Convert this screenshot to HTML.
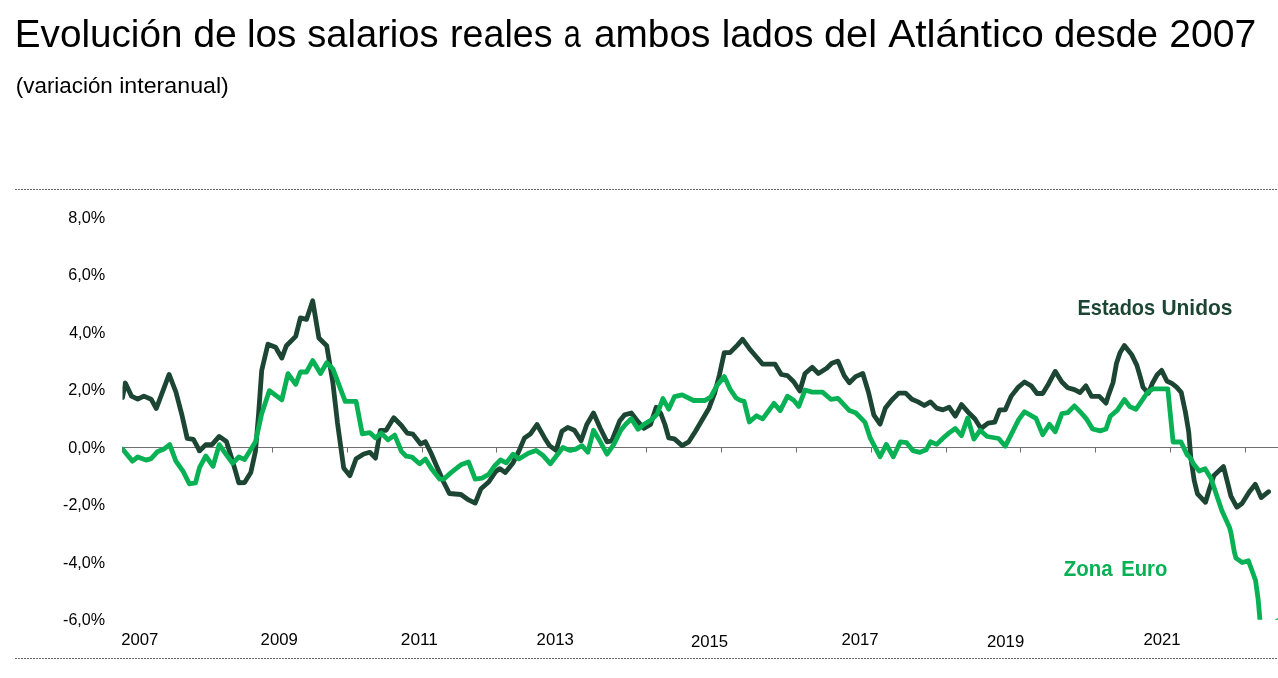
<!DOCTYPE html>
<html><head><meta charset="utf-8">
<style>
html,body{margin:0;padding:0;background:#fff;}
body{width:1278px;height:678px;overflow:hidden;}
svg{display:block;will-change:transform;}
text{font-family:"Liberation Sans",sans-serif;}
</style></head><body>
<svg width="1278" height="678" viewBox="0 0 1278 678">
<rect width="1278" height="678" fill="#fff"/>
<text x="14.83" y="47" font-size="39" font-weight="normal" fill="#000" textLength="167.56" lengthAdjust="spacingAndGlyphs">Evolución</text>
<text x="193.19" y="47" font-size="39" font-weight="normal" fill="#000" textLength="43.72" lengthAdjust="spacingAndGlyphs">de</text>
<text x="247.03" y="47" font-size="39" font-weight="normal" fill="#000" textLength="49.42" lengthAdjust="spacingAndGlyphs">los</text>
<text x="307.32" y="47" font-size="39" font-weight="normal" fill="#000" textLength="131.23" lengthAdjust="spacingAndGlyphs">salarios</text>
<text x="450.07" y="47" font-size="39" font-weight="normal" fill="#000" textLength="102.42" lengthAdjust="spacingAndGlyphs">reales</text>
<text x="563.83" y="47" font-size="39" font-weight="normal" fill="#000" textLength="17.04" lengthAdjust="spacingAndGlyphs">a</text>
<text x="594.01" y="47" font-size="39" font-weight="normal" fill="#000" textLength="116.34" lengthAdjust="spacingAndGlyphs">ambos</text>
<text x="721.64" y="47" font-size="39" font-weight="normal" fill="#000" textLength="91.87" lengthAdjust="spacingAndGlyphs">lados</text>
<text x="823.96" y="47" font-size="39" font-weight="normal" fill="#000" textLength="53.02" lengthAdjust="spacingAndGlyphs">del</text>
<text x="888.20" y="47" font-size="39" font-weight="normal" fill="#000" textLength="155.76" lengthAdjust="spacingAndGlyphs">Atlántico</text>
<text x="1054.04" y="47" font-size="39" font-weight="normal" fill="#000" textLength="104.00" lengthAdjust="spacingAndGlyphs">desde</text>
<text x="1169.30" y="47" font-size="39" font-weight="normal" fill="#000" textLength="86.97" lengthAdjust="spacingAndGlyphs">2007</text>
<text x="15.86" y="92.7" font-size="21.5" font-weight="normal" fill="#000" textLength="96.89" lengthAdjust="spacingAndGlyphs">(variación</text>
<text x="119.22" y="92.7" font-size="21.5" font-weight="normal" fill="#000" textLength="109.60" lengthAdjust="spacingAndGlyphs">interanual)</text>
<text x="1077.49" y="314.8" font-size="22" font-weight="bold" fill="#1C4633" textLength="77.65" lengthAdjust="spacingAndGlyphs">Estados</text>
<text x="1161.45" y="314.8" font-size="22" font-weight="bold" fill="#1C4633" textLength="70.99" lengthAdjust="spacingAndGlyphs">Unidos</text>
<text x="1063.77" y="575.8" font-size="22" font-weight="bold" fill="#08B254" textLength="48.92" lengthAdjust="spacingAndGlyphs">Zona</text>
<text x="1121.18" y="575.8" font-size="22" font-weight="bold" fill="#08B254" textLength="46.26" lengthAdjust="spacingAndGlyphs">Euro</text>
<text x="68.21" y="223.0" font-size="16.5" font-weight="normal" fill="#000" textLength="37.09" lengthAdjust="spacingAndGlyphs">8,0%</text>
<text x="68.21" y="280.4" font-size="16.5" font-weight="normal" fill="#000" textLength="37.09" lengthAdjust="spacingAndGlyphs">6,0%</text>
<text x="69.20" y="337.9" font-size="16.5" font-weight="normal" fill="#000" textLength="36.08" lengthAdjust="spacingAndGlyphs">4,0%</text>
<text x="68.21" y="395.4" font-size="16.5" font-weight="normal" fill="#000" textLength="37.09" lengthAdjust="spacingAndGlyphs">2,0%</text>
<text x="68.21" y="452.8" font-size="16.5" font-weight="normal" fill="#000" textLength="37.09" lengthAdjust="spacingAndGlyphs">0,0%</text>
<text x="63.02" y="510.2" font-size="16.5" font-weight="normal" fill="#000" textLength="42.08" lengthAdjust="spacingAndGlyphs">-2,0%</text>
<text x="63.02" y="567.7" font-size="16.5" font-weight="normal" fill="#000" textLength="42.08" lengthAdjust="spacingAndGlyphs">-4,0%</text>
<text x="63.02" y="625.2" font-size="16.5" font-weight="normal" fill="#000" textLength="42.08" lengthAdjust="spacingAndGlyphs">-6,0%</text>
<line x1="15" y1="189.5" x2="1278" y2="189.5" stroke="#666" stroke-width="1" stroke-dasharray="2 1"/>
<line x1="15" y1="658.5" x2="1278" y2="658.5" stroke="#666" stroke-width="1" stroke-dasharray="2 1"/>
<g font-size="17" fill="#000"><text x="121.2" y="644.9" textLength="37.2" lengthAdjust="spacingAndGlyphs">2007</text><text x="260.6" y="644.9" textLength="37.2" lengthAdjust="spacingAndGlyphs">2009</text><text x="400.8" y="645.0" textLength="37.2" lengthAdjust="spacingAndGlyphs">2011</text><text x="536.6" y="645.0" textLength="37.2" lengthAdjust="spacingAndGlyphs">2013</text><text x="690.9" y="646.7" textLength="37.2" lengthAdjust="spacingAndGlyphs">2015</text><text x="841.4" y="645.3" textLength="37.2" lengthAdjust="spacingAndGlyphs">2017</text><text x="987.0" y="646.7" textLength="37.2" lengthAdjust="spacingAndGlyphs">2019</text><text x="1143.4" y="645.3" textLength="37.2" lengthAdjust="spacingAndGlyphs">2021</text></g>
<line x1="122" y1="447.5" x2="1278" y2="447.5" stroke="#6e6e6e" stroke-width="1"/>
<g stroke="#6e6e6e" stroke-width="1"><line x1="122.5" y1="447.5" x2="122.5" y2="452.5" /><line x1="197.5" y1="447.5" x2="197.5" y2="452.5" /><line x1="272.5" y1="447.5" x2="272.5" y2="452.5" /><line x1="347.5" y1="447.5" x2="347.5" y2="452.5" /><line x1="422.5" y1="447.5" x2="422.5" y2="452.5" /><line x1="496.5" y1="447.5" x2="496.5" y2="452.5" /><line x1="571.5" y1="447.5" x2="571.5" y2="452.5" /><line x1="646.5" y1="447.5" x2="646.5" y2="452.5" /><line x1="721.5" y1="447.5" x2="721.5" y2="452.5" /><line x1="796.5" y1="447.5" x2="796.5" y2="452.5" /><line x1="871.5" y1="447.5" x2="871.5" y2="452.5" /><line x1="946.5" y1="447.5" x2="946.5" y2="452.5" /><line x1="1020.5" y1="447.5" x2="1020.5" y2="452.5" /><line x1="1095.5" y1="447.5" x2="1095.5" y2="452.5" /><line x1="1170.5" y1="447.5" x2="1170.5" y2="452.5" /><line x1="1245.5" y1="447.5" x2="1245.5" y2="452.5" /></g>
<defs><clipPath id="pa"><rect x="122.5" y="195" width="1155.5" height="424.7"/></clipPath></defs>
<g clip-path="url(#pa)" fill="none" stroke-width="4.8" stroke-linejoin="round" stroke-linecap="round">
<path d="M122.5,397.5 L125.3,383.0 L131.5,396.1 L137.7,399.2 L143.9,396.1 L151.1,399.2 L156.3,408.5 L169.1,374.4 L175.9,392.0 L182.1,415.7 L187.2,438.4 L193.4,439.4 L199.6,450.8 L205.8,444.6 L212.0,444.6 L219.2,436.4 L226.4,441.5 L232.6,461.1 L238.8,482.8 L244.6,482.5 L250.8,472.6 L255.5,451.0 L258.6,413.8 L261.7,370.5 L267.9,344.2 L275.6,347.3 L281.8,358.1 L286.4,345.7 L295.7,336.4 L300.4,317.9 L306.5,319.4 L312.7,300.8 L318.9,338.0 L326.7,345.7 L332.9,382.9 L337.5,423.1 L343.7,468.0 L349.9,475.7 L356.1,458.7 L363.8,454.0 L369.8,452.3 L375.5,458.1 L380.3,430.3 L386.1,430.3 L393.8,417.8 L401.4,425.5 L407.2,433.1 L412.9,434.1 L420.6,444.0 L425.4,441.8 L431.1,453.3 L436.9,466.7 L443.6,482.0 L449.4,493.5 L460.9,494.5 L467.6,499.3 L475.2,503.1 L481.0,488.7 L488.7,482.0 L495.8,471.5 L499.6,468.6 L505.3,472.4 L513.0,462.9 L518.8,451.4 L524.5,437.9 L530.3,434.1 L537.0,424.5 L544.6,437.9 L549.4,445.6 L556.1,450.4 L561.9,431.2 L567.7,427.4 L574.4,430.3 L581.1,440.8 L586.8,424.5 L593.5,413.0 L600.3,428.3 L607.0,441.8 L611.8,440.8 L619.8,420.7 L624.6,414.9 L631.3,413.0 L638.0,421.6 L643.8,428.3 L650.5,424.5 L656.2,407.2 L661.0,414.0 L664.9,424.5 L668.7,437.9 L674.4,438.9 L682.1,445.6 L688.8,441.8 L695.5,431.2 L702.2,419.7 L709.0,408.2 L714.7,392.9 L719.5,374.6 L724.3,352.6 L730.0,352.6 L737.7,344.9 L742.5,339.2 L750.3,349.8 L756.5,357.0 L762.7,364.2 L775.1,364.2 L781.3,374.5 L787.5,375.6 L793.7,381.7 L799.8,391.0 L805.0,373.5 L812.2,367.3 L818.4,373.5 L826.7,368.3 L831.8,363.2 L838.0,361.1 L844.2,375.6 L849.4,382.8 L855.6,376.6 L862.8,373.5 L868.5,392.2 L873.9,415.2 L880.1,424.1 L885.4,408.1 L891.6,400.2 L898.7,393.1 L905.7,393.1 L911.9,399.3 L918.1,401.9 L924.3,405.5 L930.5,401.9 L936.7,408.1 L942.9,409.9 L949.1,407.2 L955.3,416.1 L961.5,404.6 L967.7,411.7 L974.8,418.8 L981.0,428.5 L988.1,423.2 L994.8,422.2 L999.6,409.8 L1005.3,409.8 L1011.1,396.4 L1017.8,387.7 L1024.5,382.0 L1031.2,385.8 L1037.0,393.5 L1042.7,393.5 L1048.5,383.9 L1055.2,371.4 L1061.9,382.0 L1067.7,387.7 L1074.4,389.6 L1080.1,392.5 L1085.9,385.8 L1091.6,396.4 L1099.3,396.4 L1106.0,403.1 L1108.5,395.1 L1113.0,382.7 L1116.5,363.3 L1120.0,352.7 L1124.4,345.6 L1131.5,354.4 L1136.8,365.1 L1140.4,377.4 L1143.0,387.2 L1148.3,393.3 L1152.7,382.7 L1157.2,374.8 L1161.6,370.4 L1166.9,381.0 L1172.2,383.6 L1176.6,387.2 L1181.2,392.3 L1185.4,412.0 L1188.7,431.9 L1190.9,458.4 L1194.2,480.5 L1197.5,493.8 L1205.5,502.3 L1209.5,488.7 L1213.9,475.4 L1223.5,466.6 L1228.0,484.3 L1230.9,496.1 L1236.8,507.2 L1242.0,503.5 L1249.4,491.7 L1255.3,484.3 L1261.2,497.6 L1268.6,491.7" stroke="#1C4633"/>
<path d="M122.5,449.0 L132.5,461.1 L137.7,457.0 L146.0,460.1 L151.1,458.6 L157.3,451.8 L164.5,448.7 L169.7,444.6 L175.9,461.1 L183.1,471.4 L189.3,483.8 L195.5,482.8 L199.6,467.3 L205.8,456.0 L213.0,466.3 L219.2,444.6 L226.4,454.9 L232.6,463.2 L238.8,457.0 L244.6,459.6 L255.5,441.7 L261.7,413.8 L269.4,390.6 L281.8,399.9 L288.0,373.6 L295.7,384.4 L300.4,372.0 L306.5,372.0 L312.7,360.6 L320.5,373.6 L326.7,362.7 L332.9,368.9 L345.2,401.4 L356.1,401.4 L362.3,433.9 L369.8,432.6 L375.5,437.9 L381.3,433.1 L388.0,439.9 L394.7,435.1 L401.4,451.4 L406.2,456.2 L412.0,457.1 L419.6,463.8 L425.4,459.0 L432.1,469.6 L439.8,479.2 L443.6,479.2 L451.3,472.4 L460.9,464.8 L468.5,461.9 L475.2,479.2 L482.0,478.2 L488.7,474.4 L494.8,465.7 L500.5,460.0 L506.3,462.9 L513.0,454.2 L518.8,459.0 L528.3,453.3 L536.0,450.4 L542.7,455.2 L550.4,463.8 L556.1,456.2 L562.9,447.5 L569.6,450.4 L575.3,449.4 L582.0,445.6 L587.8,452.3 L593.5,430.3 L600.3,441.8 L607.0,454.2 L613.7,444.6 L620.8,430.3 L625.5,424.5 L631.3,418.7 L638.0,429.3 L643.8,424.5 L651.4,419.7 L657.2,414.0 L662.9,398.6 L668.7,409.2 L674.4,396.7 L682.1,394.8 L693.6,400.5 L705.1,400.5 L710.9,396.7 L716.6,386.1 L724.3,376.6 L730.0,389.0 L735.8,397.7 L740.0,400.3 L744.1,401.4 L749.3,422.0 L756.5,415.8 L762.7,418.9 L774.0,403.4 L780.2,410.6 L787.5,396.2 L793.7,400.3 L798.8,406.5 L805.0,390.0 L812.2,392.1 L822.5,392.1 L830.8,399.3 L838.0,398.3 L849.4,410.6 L855.6,412.7 L861.7,418.9 L865.0,422.3 L870.3,438.2 L880.1,456.8 L886.3,444.4 L893.3,456.8 L900.4,441.8 L906.6,442.7 L912.8,450.6 L919.9,452.4 L926.1,449.8 L930.5,441.8 L936.7,444.4 L942.9,438.2 L949.1,432.9 L955.3,428.5 L961.5,435.6 L967.7,417.9 L973.9,439.1 L980.1,430.3 L987.2,436.5 L998.6,438.5 L1005.3,446.2 L1013.0,430.9 L1018.8,419.4 L1024.5,411.7 L1036.0,418.4 L1042.7,434.7 L1049.4,424.2 L1055.2,431.8 L1061.9,413.6 L1067.7,412.7 L1074.4,405.9 L1081.1,412.7 L1086.8,419.4 L1092.6,429.0 L1100.2,430.9 L1106.0,429.0 L1110.3,416.3 L1117.4,410.1 L1124.4,399.5 L1129.8,406.6 L1135.9,409.3 L1142.1,400.4 L1147.4,392.5 L1152.7,388.9 L1167.8,388.9 L1173.1,442.0 L1181.0,442.0 L1187.2,454.9 L1189.6,457.0 L1194.0,464.4 L1199.2,471.0 L1205.1,468.8 L1211.0,478.4 L1216.9,496.1 L1221.8,510.5 L1229.5,527.5 L1231.0,533.0 L1234.3,551.9 L1236.0,558.1 L1242.2,562.5 L1248.4,560.7 L1255.5,580.2 L1258.2,599.7 L1259.9,619.2 L1261.0,640.0" stroke="#08B254"/>
</g>
<path d="M1274.3,619.7 L1278,617.9 L1278,619.7 Z" fill="#08B254"/>
</svg>
</body></html>
